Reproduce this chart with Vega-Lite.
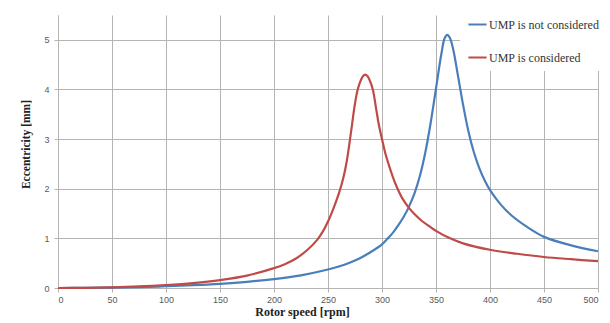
{
  "$schema": "https://vega.github.io/schema/vega-lite/v6.json",
  "width": 540,
  "height": 273,
  "autosize": {"type": "none"},
  "padding": {"left": 58, "top": 15, "right": 12, "bottom": 35},
  "background": "white",
  "config": {"view": {"stroke": null}, "legend": {"labelFont": "Liberation Serif", "labelFontSize": 12}},
  "data": {"values": [
    {"speed": 0, "ecc": 0, "series": "UMP is not considered"},
    {"speed": 25, "ecc": 0.002, "series": "UMP is not considered"},
    {"speed": 50, "ecc": 0.008, "series": "UMP is not considered"},
    {"speed": 75, "ecc": 0.018, "series": "UMP is not considered"},
    {"speed": 100, "ecc": 0.035, "series": "UMP is not considered"},
    {"speed": 125, "ecc": 0.056, "series": "UMP is not considered"},
    {"speed": 150, "ecc": 0.085, "series": "UMP is not considered"},
    {"speed": 175, "ecc": 0.125, "series": "UMP is not considered"},
    {"speed": 200, "ecc": 0.18, "series": "UMP is not considered"},
    {"speed": 225, "ecc": 0.256, "series": "UMP is not considered"},
    {"speed": 250, "ecc": 0.372, "series": "UMP is not considered"},
    {"speed": 260, "ecc": 0.433, "series": "UMP is not considered"},
    {"speed": 270, "ecc": 0.51, "series": "UMP is not considered"},
    {"speed": 280, "ecc": 0.605, "series": "UMP is not considered"},
    {"speed": 290, "ecc": 0.73, "series": "UMP is not considered"},
    {"speed": 300, "ecc": 0.88, "series": "UMP is not considered"},
    {"speed": 305, "ecc": 0.99, "series": "UMP is not considered"},
    {"speed": 310, "ecc": 1.11, "series": "UMP is not considered"},
    {"speed": 315, "ecc": 1.26, "series": "UMP is not considered"},
    {"speed": 320, "ecc": 1.43, "series": "UMP is not considered"},
    {"speed": 325, "ecc": 1.64, "series": "UMP is not considered"},
    {"speed": 330, "ecc": 1.9, "series": "UMP is not considered"},
    {"speed": 335, "ecc": 2.25, "series": "UMP is not considered"},
    {"speed": 340, "ecc": 2.72, "series": "UMP is not considered"},
    {"speed": 345, "ecc": 3.32, "series": "UMP is not considered"},
    {"speed": 350, "ecc": 4.02, "series": "UMP is not considered"},
    {"speed": 355, "ecc": 4.72, "series": "UMP is not considered"},
    {"speed": 358, "ecc": 5.03, "series": "UMP is not considered"},
    {"speed": 360.5, "ecc": 5.1, "series": "UMP is not considered"},
    {"speed": 363, "ecc": 5.03, "series": "UMP is not considered"},
    {"speed": 366, "ecc": 4.8, "series": "UMP is not considered"},
    {"speed": 370, "ecc": 4.32, "series": "UMP is not considered"},
    {"speed": 375, "ecc": 3.7, "series": "UMP is not considered"},
    {"speed": 380, "ecc": 3.16, "series": "UMP is not considered"},
    {"speed": 385, "ecc": 2.74, "series": "UMP is not considered"},
    {"speed": 390, "ecc": 2.42, "series": "UMP is not considered"},
    {"speed": 395, "ecc": 2.17, "series": "UMP is not considered"},
    {"speed": 400, "ecc": 1.97, "series": "UMP is not considered"},
    {"speed": 410, "ecc": 1.68, "series": "UMP is not considered"},
    {"speed": 420, "ecc": 1.46, "series": "UMP is not considered"},
    {"speed": 435, "ecc": 1.22, "series": "UMP is not considered"},
    {"speed": 450, "ecc": 1.03, "series": "UMP is not considered"},
    {"speed": 475, "ecc": 0.86, "series": "UMP is not considered"},
    {"speed": 500, "ecc": 0.74, "series": "UMP is not considered"},
    {"speed": 0, "ecc": 0, "series": "UMP is considered"},
    {"speed": 25, "ecc": 0.003, "series": "UMP is considered"},
    {"speed": 50, "ecc": 0.013, "series": "UMP is considered"},
    {"speed": 75, "ecc": 0.031, "series": "UMP is considered"},
    {"speed": 100, "ecc": 0.06, "series": "UMP is considered"},
    {"speed": 125, "ecc": 0.1, "series": "UMP is considered"},
    {"speed": 150, "ecc": 0.16, "series": "UMP is considered"},
    {"speed": 175, "ecc": 0.25, "series": "UMP is considered"},
    {"speed": 200, "ecc": 0.4, "series": "UMP is considered"},
    {"speed": 210, "ecc": 0.48, "series": "UMP is considered"},
    {"speed": 220, "ecc": 0.59, "series": "UMP is considered"},
    {"speed": 230, "ecc": 0.75, "series": "UMP is considered"},
    {"speed": 240, "ecc": 0.97, "series": "UMP is considered"},
    {"speed": 245, "ecc": 1.13, "series": "UMP is considered"},
    {"speed": 250, "ecc": 1.34, "series": "UMP is considered"},
    {"speed": 255, "ecc": 1.6, "series": "UMP is considered"},
    {"speed": 260, "ecc": 1.9, "series": "UMP is considered"},
    {"speed": 264, "ecc": 2.2, "series": "UMP is considered"},
    {"speed": 267.5, "ecc": 2.57, "series": "UMP is considered"},
    {"speed": 270.4, "ecc": 3.0, "series": "UMP is considered"},
    {"speed": 272.5, "ecc": 3.33, "series": "UMP is considered"},
    {"speed": 274.5, "ecc": 3.65, "series": "UMP is considered"},
    {"speed": 277.5, "ecc": 4.0, "series": "UMP is considered"},
    {"speed": 280.5, "ecc": 4.19, "series": "UMP is considered"},
    {"speed": 282.5, "ecc": 4.27, "series": "UMP is considered"},
    {"speed": 284.5, "ecc": 4.3, "series": "UMP is considered"},
    {"speed": 286.5, "ecc": 4.27, "series": "UMP is considered"},
    {"speed": 288.5, "ecc": 4.19, "series": "UMP is considered"},
    {"speed": 291.5, "ecc": 4.0, "series": "UMP is considered"},
    {"speed": 294.5, "ecc": 3.62, "series": "UMP is considered"},
    {"speed": 297, "ecc": 3.3, "series": "UMP is considered"},
    {"speed": 300, "ecc": 3.0, "series": "UMP is considered"},
    {"speed": 303, "ecc": 2.72, "series": "UMP is considered"},
    {"speed": 306, "ecc": 2.5, "series": "UMP is considered"},
    {"speed": 310, "ecc": 2.24, "series": "UMP is considered"},
    {"speed": 314, "ecc": 2.02, "series": "UMP is considered"},
    {"speed": 319, "ecc": 1.8, "series": "UMP is considered"},
    {"speed": 324.4, "ecc": 1.63, "series": "UMP is considered"},
    {"speed": 330, "ecc": 1.49, "series": "UMP is considered"},
    {"speed": 337, "ecc": 1.35, "series": "UMP is considered"},
    {"speed": 344, "ecc": 1.24, "series": "UMP is considered"},
    {"speed": 350, "ecc": 1.15, "series": "UMP is considered"},
    {"speed": 362, "ecc": 1.01, "series": "UMP is considered"},
    {"speed": 375, "ecc": 0.9, "series": "UMP is considered"},
    {"speed": 400, "ecc": 0.77, "series": "UMP is considered"},
    {"speed": 425, "ecc": 0.69, "series": "UMP is considered"},
    {"speed": 450, "ecc": 0.625, "series": "UMP is considered"},
    {"speed": 475, "ecc": 0.58, "series": "UMP is considered"},
    {"speed": 500, "ecc": 0.54, "series": "UMP is considered"}
  ]},
  "mark": {"type": "line", "interpolate": "catmull-rom", "strokeWidth": 2.2},
  "encoding": {
    "x": {
      "field": "speed", "type": "quantitative",
      "scale": {"domain": [0, 500], "nice": false},
      "axis": {
        "title": "Rotor speed [rpm]",
        "values": [0, 50, 100, 150, 200, 250, 300, 350, 400, 450, 500],
        "grid": true, "gridColor": "#b4b4b4", "gridWidth": 1,
        "domainColor": "#b4b4b4", "tickColor": "#b4b4b4", "tickSize": 4,
        "labelFont": "Liberation Sans", "labelFontSize": 9, "labelColor": "#595959", "labelPadding": 3,
        "titleFont": "Liberation Serif", "titleFontSize": 12, "titleFontWeight": "bold", "titleColor": "#222222",
        "titleX": 244, "titleY": 18, "titleAnchor": "middle", "titleBaseline": "top"
      }
    },
    "y": {
      "field": "ecc", "type": "quantitative",
      "scale": {"domain": [0, 5.5], "nice": false},
      "axis": {
        "title": "Eccentricity [mm]",
        "values": [0, 1, 2, 3, 4, 5],
        "grid": true, "gridColor": "#b4b4b4", "gridWidth": 1,
        "domainColor": "#b4b4b4", "tickColor": "#b4b4b4", "tickSize": 4,
        "labelFont": "Liberation Sans", "labelFontSize": 9, "labelColor": "#595959", "labelPadding": 5,
        "titleFont": "Liberation Serif", "titleFontSize": 11.5, "titleFontWeight": "bold", "titleColor": "#222222",
        "titlePadding": 12, "titleY": 129
      }
    },
    "color": {
      "field": "series", "type": "nominal",
      "scale": {"domain": ["UMP is not considered", "UMP is considered"], "range": ["#4a7ebb", "#be4b48"]},
      "legend": {
        "title": null,
        "orient": "none", "legendX": 402, "legendY": -8,
        "fillColor": "white", "padding": 7,
        "symbolType": "stroke", "symbolSize": 330, "symbolStrokeWidth": 2,
        "labelFont": "Liberation Serif", "labelFontSize": 12, "labelColor": "#333333",
        "labelOffset": 1, "rowPadding": 16
      }
    }
  }
}
